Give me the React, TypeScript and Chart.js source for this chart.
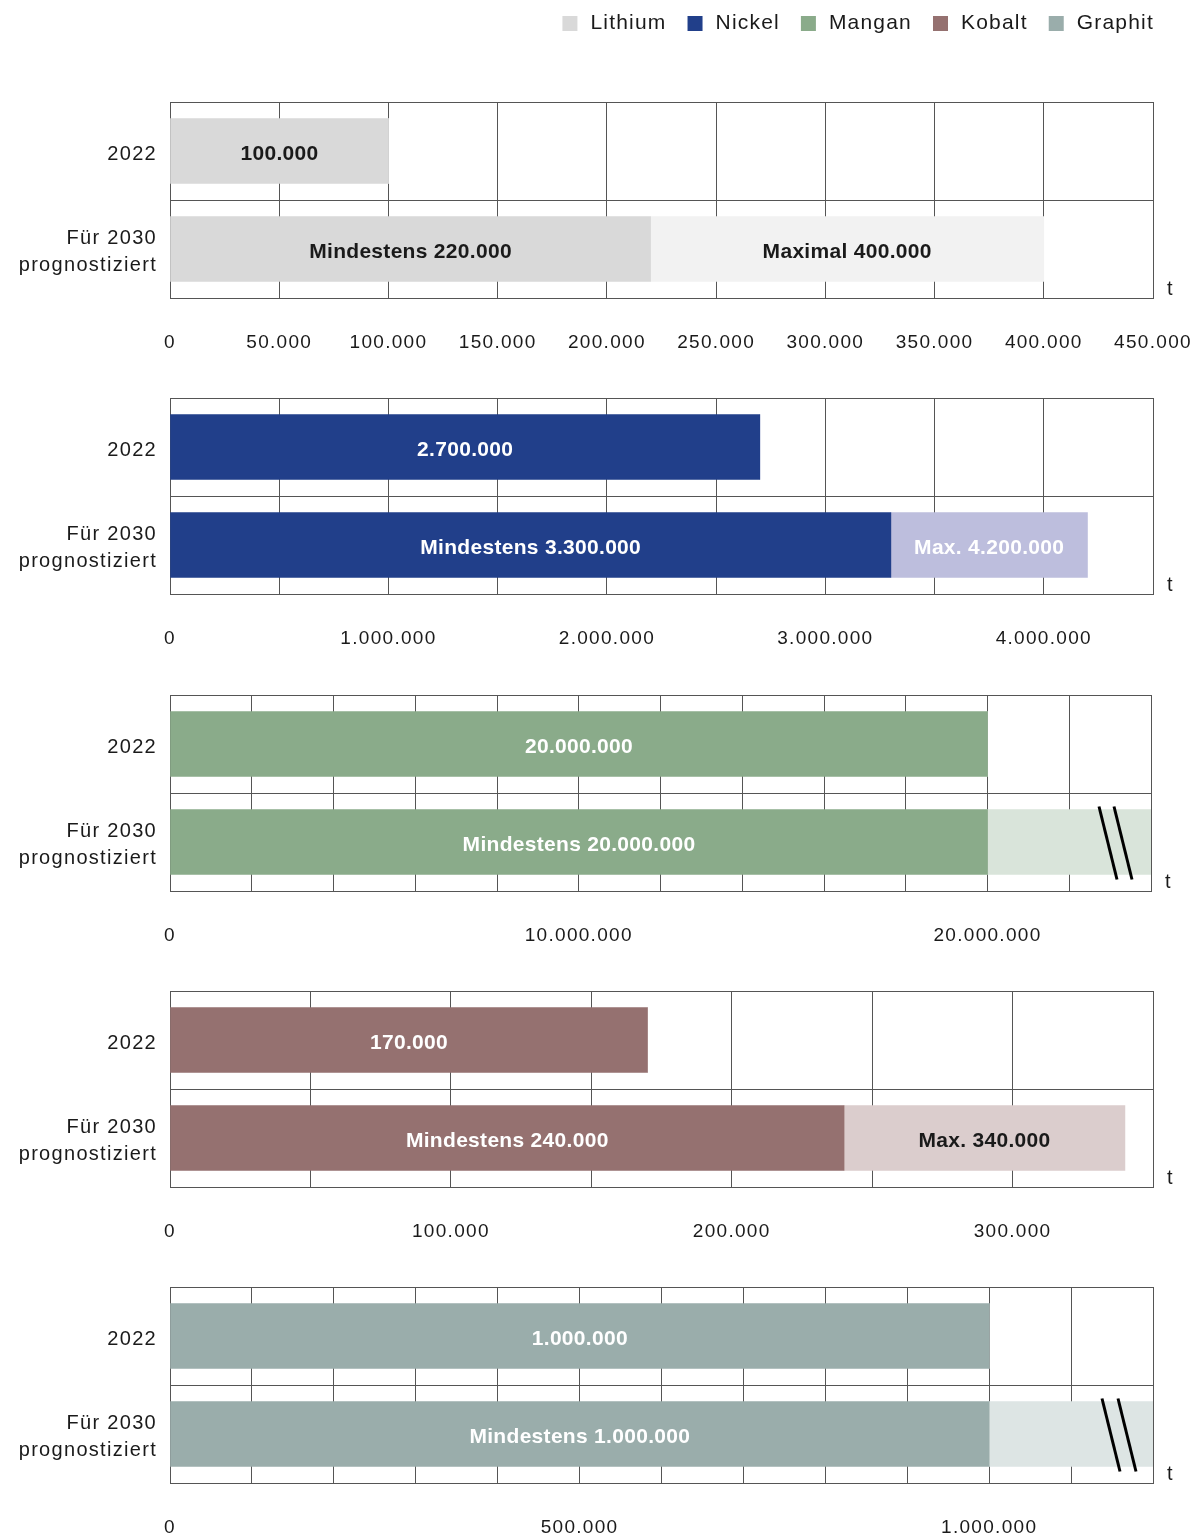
import React, { useEffect, useRef } from 'react';
import { Chart, registerables } from 'chart.js';

Chart.register(...registerables);

const FONT = '"Liberation Sans", Arial, Helvetica, sans-serif';
const TEXT = '#1a1a1a';
const GRID = '#555555';

const categories: any[] = ['2022', ['Für 2030', 'prognostiziert']];
const unitLabel = 't';

const legendLabels = ['Lithium', 'Nickel', 'Mangan', 'Kobalt', 'Graphit'];
const legendColors = ['#d9d9d9', '#213f8a', '#8aab8a', '#957170', '#9aadab'];

// Lithium
const lithiumMin = [100000, 220000];
const lithiumMax = [null, 400000];
const lithiumMinLabels = ['100.000', 'Mindestens 220.000'];
const lithiumMaxLabels = ['', 'Maximal 400.000'];
const lithiumTickLabels = [0, 50000, 100000, 150000, 200000, 250000, 300000, 350000, 400000, 450000];

// Nickel
const nickelMin = [2700000, 3300000];
const nickelMax = [null, 4200000];
const nickelMinLabels = ['2.700.000', 'Mindestens 3.300.000'];
const nickelMaxLabels = ['', 'Max. 4.200.000'];
const nickelTickLabels = [0, 1000000, 2000000, 3000000, 4000000];

// Mangan (2030 upper part runs past the axis end: broken bar)
const manganMin = [20000000, 20000000];
const manganMax = [null, 24000000];
const manganMinLabels = ['20.000.000', 'Mindestens 20.000.000'];
const manganMaxLabels = ['', ''];
const manganTickLabels = [0, 10000000, 20000000];

// Kobalt
const kobaltMin = [170000, 240000];
const kobaltMax = [null, 340000];
const kobaltMinLabels = ['170.000', 'Mindestens 240.000'];
const kobaltMaxLabels = ['', 'Max. 340.000'];
const kobaltTickLabels = [0, 100000, 200000, 300000];

// Graphit (2030 upper part runs past the axis end: broken bar)
const graphitMin = [1000000, 1000000];
const graphitMax = [null, 1200000];
const graphitMinLabels = ['1.000.000', 'Mindestens 1.000.000'];
const graphitMaxLabels = ['', ''];
const graphitTickLabels = [0, 500000, 1000000];

const fmt = (v: number) => String(Math.round(v)).replace(/\B(?=(\d{3})+(?!\d))/g, '.');

type Panel = {
  min: number[];
  max: (number | null)[];
  minLabels: string[];
  maxLabels: string[];
  ticks: number[];
  axisMax: number;
  step: number;
  color: string;
  lightColor: string;
  minText: string;
  maxText: string;
  breakOffsets: number[] | null;
  plotTop: number;
  rightPad: number;
  legend: boolean;
};

const panels: Panel[] = [
  { min: lithiumMin, max: lithiumMax, minLabels: lithiumMinLabels, maxLabels: lithiumMaxLabels, ticks: lithiumTickLabels,
    axisMax: 450000, step: 50000, color: '#d9d9d9', lightColor: '#f2f2f2', minText: TEXT, maxText: TEXT, breakOffsets: null, plotTop: 102, rightPad: 41, legend: true },
  { min: nickelMin, max: nickelMax, minLabels: nickelMinLabels, maxLabels: nickelMaxLabels, ticks: nickelTickLabels,
    axisMax: 4500000, step: 500000, color: '#213f8a', lightColor: '#bdbedd', minText: '#ffffff', maxText: '#ffffff', breakOffsets: null, plotTop: 398, rightPad: 41, legend: false },
  { min: manganMin, max: manganMax, minLabels: manganMinLabels, maxLabels: manganMaxLabels, ticks: manganTickLabels,
    axisMax: 24000000, step: 2000000, color: '#8aab8a', lightColor: '#d9e4da', minText: '#ffffff', maxText: '#ffffff', breakOffsets: [43, 28], plotTop: 695, rightPad: 43, legend: false },
  { min: kobaltMin, max: kobaltMax, minLabels: kobaltMinLabels, maxLabels: kobaltMaxLabels, ticks: kobaltTickLabels,
    axisMax: 350000, step: 50000, color: '#957170', lightColor: '#dbcdcd', minText: '#ffffff', maxText: TEXT, breakOffsets: null, plotTop: 991, rightPad: 41, legend: false },
  { min: graphitMin, max: graphitMax, minLabels: graphitMinLabels, maxLabels: graphitMaxLabels, ticks: graphitTickLabels,
    axisMax: 1200000, step: 100000, color: '#9aadab', lightColor: '#dde5e4', minText: '#ffffff', maxText: '#ffffff', breakOffsets: [42, 26], plotTop: 1287, rightPad: 41, legend: false },
];

const PLOT_H = 196;
const AXIS_H = 80;
const TOP_PAD = 40;

const spacingPlugin = {
  id: 'spacing',
  beforeLayout(chart: any) { chart.ctx.letterSpacing = '1.3px'; },
  beforeDraw(chart: any) { chart.ctx.letterSpacing = '1.3px'; },
};

const barLabelPlugin = {
  id: 'barLabels',
  afterDatasetsDraw(chart: any) {
    const ctx = chart.ctx;
    ctx.save();
    ctx.font = `bold 21px ${FONT}`;
    ctx.letterSpacing = '0.3px';
    ctx.textAlign = 'center';
    ctx.textBaseline = 'middle';
    chart.data.datasets.forEach((ds: any, di: number) => {
      const meta = chart.getDatasetMeta(di);
      meta.data.forEach((bar: any, i: number) => {
        const text = ds.barLabels && ds.barLabels[i];
        if (!text) return;
        const p = bar.getProps(['x', 'base', 'y'], true);
        ctx.fillStyle = ds.labelColor;
        ctx.fillText(text, (p.x + p.base) / 2, p.y + 3);
      });
    });
    ctx.restore();
  },
};

const breakPlugin = {
  id: 'breakMark',
  afterDatasetsDraw(chart: any, _args: any, opts: any) {
    if (!opts || !opts.offsets) return;
    const ctx = chart.ctx;
    const bar = chart.getDatasetMeta(1).data[1];
    if (!bar) return;
    const p = bar.getProps(['y', 'height'], true);
    const r = chart.chartArea.right;
    ctx.save();
    ctx.strokeStyle = '#000000';
    ctx.lineWidth = 3;
    opts.offsets.forEach((off: number) => {
      ctx.beginPath();
      ctx.moveTo(r - off - 9, p.y - p.height / 2 - 3);
      ctx.lineTo(r - off + 9, p.y + p.height / 2 + 5);
      ctx.stroke();
    });
    ctx.restore();
  },
};

const unitPlugin = {
  id: 'unit',
  afterDraw(chart: any) {
    const ctx = chart.ctx;
    const a = chart.chartArea;
    ctx.save();
    ctx.font = `20px ${FONT}`;
    ctx.letterSpacing = '1px';
    ctx.fillStyle = TEXT;
    ctx.textAlign = 'left';
    ctx.textBaseline = 'middle';
    ctx.fillText(unitLabel, a.right + 14, a.bottom - 9);
    ctx.restore();
  },
};

const legendPlugin = {
  id: 'customLegend',
  afterDraw(chart: any, _args: any, opts: any) {
    if (!opts || !opts.show) return;
    const ctx = chart.ctx;
    ctx.save();
    ctx.font = `21px ${FONT}`;
    ctx.letterSpacing = '1.2px';
    ctx.textBaseline = 'middle';
    ctx.textAlign = 'left';
    let end = chart.chartArea.right + 1;
    const y = 23;
    for (let i = legendLabels.length - 1; i >= 0; i--) {
      const w = ctx.measureText(legendLabels[i]).width;
      const tx = end - w;
      ctx.fillStyle = TEXT;
      ctx.fillText(legendLabels[i], tx, y);
      const boxRight = tx - 13;
      ctx.fillStyle = legendColors[i];
      ctx.fillRect(boxRight - 15, y - 7, 15, 15);
      end = boxRight - 15 - 21;
    }
    ctx.restore();
  },
};

function ChartPanel({ panel }: { panel: Panel }) {
  const ref = useRef<HTMLCanvasElement | null>(null);
  const topPad = panel.legend ? panel.plotTop : TOP_PAD;
  const canvasTop = panel.legend ? 0 : panel.plotTop - TOP_PAD;
  const height = topPad + PLOT_H + AXIS_H;

  useEffect(() => {
    if (!ref.current) return;
    const extra = panel.max.map((m, i) => (m == null ? 0 : m - panel.min[i]));
    const chart = new Chart(ref.current, {
      type: 'bar',
      data: {
        labels: categories,
        datasets: [
          {
            label: 'Mindestens',
            data: panel.min,
            backgroundColor: panel.color,
            borderWidth: 0,
            barThickness: 65,
            barLabels: panel.minLabels,
            labelColor: panel.minText,
          } as any,
          {
            label: 'Maximal',
            data: extra,
            backgroundColor: panel.lightColor,
            borderWidth: 0,
            barThickness: 65,
            barLabels: panel.maxLabels,
            labelColor: panel.maxText,
          } as any,
        ],
      },
      options: {
        indexAxis: 'y',
        responsive: false,
        maintainAspectRatio: false,
        animation: false,
        devicePixelRatio: 1,
        layout: { padding: { top: topPad, right: panel.rightPad, bottom: 0, left: 0 } },
        plugins: {
          legend: { display: false },
          tooltip: { enabled: false },
          breakMark: { offsets: panel.breakOffsets },
          customLegend: { show: panel.legend },
        } as any,
        scales: {
          x: {
            type: 'linear',
            stacked: true,
            min: 0,
            max: panel.axisMax,
            afterFit: (s: any) => { s.height = AXIS_H; s.paddingLeft = 0; s.paddingRight = 0; },
            ticks: {
              stepSize: panel.step,
              autoSkip: false,
              maxRotation: 0,
              padding: 33,
              color: TEXT,
              font: { family: FONT, size: 19 },
              callback: (v: any) => (panel.ticks.includes(Number(v)) ? fmt(Number(v)) : ''),
            },
            grid: { color: GRID, lineWidth: 1, drawTicks: false },
            border: { display: true, color: GRID, width: 1 },
          },
          y: {
            type: 'category',
            stacked: true,
            afterFit: (s: any) => { s.width = 170; s.paddingTop = 0; s.paddingBottom = 0; },
            ticks: {
              padding: 13,
              labelOffset: 3,
              color: TEXT,
              font: { family: FONT, size: 20, lineHeight: 1.35 },
            },
            grid: { color: GRID, lineWidth: 1, drawTicks: false, offset: true },
            border: { display: true, color: GRID, width: 1 },
          },
        },
      },
      plugins: [spacingPlugin, barLabelPlugin, breakPlugin, unitPlugin, legendPlugin],
    } as any);
    return () => chart.destroy();
  }, [panel]);

  return (
    <canvas
      ref={ref}
      width={1194}
      height={height}
      style={{ position: 'absolute', left: 0, top: canvasTop, width: 1194, height }}
    />
  );
}

export default function App() {
  return (
    <div style={{ position: 'absolute', left: 0, top: 0, width: 1194, height: 1535, background: '#ffffff', overflow: 'hidden' }}>
      {panels.map((p, i) => (
        <ChartPanel key={i} panel={p} />
      ))}
    </div>
  );
}
